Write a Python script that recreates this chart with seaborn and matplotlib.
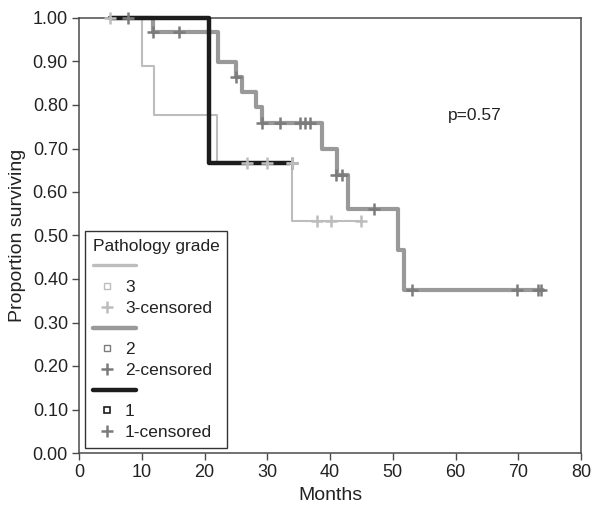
import matplotlib
matplotlib.use("Agg")
import matplotlib.pyplot as plt
import seaborn as sns
import pandas as pd
from matplotlib.lines import Line2D
from matplotlib.legend_handler import HandlerLine2D

# ---------------- data ----------------
grade3_times = [5, 10, 12, 22, 34, 45]
grade3_surv = [1.0, 0.889, 0.778, 0.667, 0.533, 0.533]
grade3_cens_t = [4.9, 26.7, 30.0, 33.9, 37.9, 40.1, 44.9]
grade3_cens_s = [1.0, 0.667, 0.667, 0.667, 0.533, 0.533, 0.533]

grade2_times = [5, 11.8, 22.1, 25.0, 25.9, 28.2, 29.1, 38.8, 41.1, 42.9, 50.9, 51.8, 74.0]
grade2_surv = [1.0, 0.967, 0.898, 0.864, 0.829, 0.795, 0.758, 0.700, 0.639, 0.560, 0.467, 0.375, 0.375]
grade2_cens_t = [7.8, 11.8, 15.9, 25.0, 29.1, 32.0, 35.2, 36.0, 36.8, 41.0, 41.9, 47.0, 53.0, 69.8, 73.1, 73.7]
grade2_cens_s = [1.0, 0.967, 0.967, 0.864, 0.758, 0.758, 0.758, 0.758, 0.758, 0.639, 0.639, 0.560, 0.375, 0.375, 0.375, 0.375]

grade1_times = [5, 20.7, 33.6]
grade1_surv = [1.0, 0.667, 0.667]
grade1_cens_t = [33.9]
grade1_cens_s = [0.667]

x_ticks = [0, 10, 20, 30, 40, 50, 60, 70, 80]
y_ticks = [0.0, 0.1, 0.2, 0.3, 0.4, 0.5, 0.6, 0.7, 0.8, 0.9, 1.0]
p_text = "p=0.57"

# ---------------- style ----------------
sns.set_style("white")
plt.rcParams["font.family"] = ["Liberation Sans", "DejaVu Sans"]

c3 = "#bdbdbd"
c2 = "#999999"
c2_cens = "#7b7b7b"
c1 = "#1c1c1c"
spine_c = "#4a4a4a"

fig = plt.figure(figsize=(5.95, 5.08), dpi=100)
ax = fig.add_axes([79 / 595, 1 - 453 / 508, (581 - 79) / 595, (453 - 18) / 508])

df3 = pd.DataFrame({"t": grade3_times, "s": grade3_surv})
df2 = pd.DataFrame({"t": grade2_times, "s": grade2_surv})
df1 = pd.DataFrame({"t": grade1_times, "s": grade1_surv})

sns.lineplot(data=df3, x="t", y="s", drawstyle="steps-post", estimator=None, sort=False,
             color=c3, linewidth=1.5, ax=ax, zorder=2, clip_on=False, legend=False)
sns.lineplot(data=df2, x="t", y="s", drawstyle="steps-post", estimator=None, sort=False,
             color=c2, linewidth=3.0, ax=ax, zorder=3, clip_on=False, legend=False)
sns.lineplot(data=df1, x="t", y="s", drawstyle="steps-post", estimator=None, sort=False,
             color=c1, linewidth=3.2, ax=ax, zorder=4, clip_on=False, legend=False)

cens_kw = dict(marker="+", s=70, linewidth=1.8, ax=ax, clip_on=False, legend=False)
sns.scatterplot(x=grade1_cens_t, y=grade1_cens_s, color=c2_cens, zorder=5, **cens_kw)
sns.scatterplot(x=grade2_cens_t, y=grade2_cens_s, color=c2_cens, zorder=6, **cens_kw)
sns.scatterplot(x=grade3_cens_t, y=grade3_cens_s, color=c3, zorder=7, **cens_kw)

ax.set_xlim(0, 80)
ax.set_ylim(0, 1.0)
ax.set_xticks(x_ticks)
ax.set_yticks(y_ticks)
ax.set_yticklabels([f"{v:.2f}" for v in y_ticks])
ax.tick_params(axis="both", direction="out", length=5, width=1, color=spine_c,
               labelsize=13, labelcolor="#222222", pad=3, bottom=True, left=True)
for sp in ax.spines.values():
    sp.set_color(spine_c)
    sp.set_linewidth(1.1)
    sp.set_visible(True)

ax.set_xlabel("Months", fontsize=14, color="#222222", labelpad=4)
ax.set_ylabel("Proportion surviving", fontsize=14, color="#222222", labelpad=5)

ax.text(63, 0.777, p_text, ha="center", va="center", fontsize=12.5, color="#222222")


# ---------------- legend ----------------
class LongLine(HandlerLine2D):
    def create_artists(self, legend, orig_handle, xdescent, ydescent, width, height, fontsize, trans):
        return super().create_artists(legend, orig_handle, xdescent, ydescent,
                                      width * 1.55, height, fontsize, trans)


h_l3 = Line2D([], [], color=c3, lw=2.4)
h_s3 = Line2D([], [], ls="none", marker="s", mfc="white", mec=c3, ms=5, mew=1)
h_p3 = Line2D([], [], ls="none", marker="+", color=c3, ms=9, mew=1.8)
h_l2 = Line2D([], [], color=c2, lw=3.2)
h_s2 = Line2D([], [], ls="none", marker="s", mfc="white", mec=c2_cens, ms=5, mew=1)
h_p2 = Line2D([], [], ls="none", marker="+", color=c2_cens, ms=9, mew=1.8)
h_l1 = Line2D([], [], color=c1, lw=3.2)
h_s1 = Line2D([], [], ls="none", marker="s", mfc="white", mec=c1, ms=5, mew=1.2)
h_p1 = Line2D([], [], ls="none", marker="+", color=c2_cens, ms=9, mew=1.8)

handles = [h_l3, h_s3, h_p3, h_l2, h_s2, h_p2, h_l1, h_s1, h_p1]
labels = ["", "3", "3-censored", "", "2", "2-censored", "", "1", "1-censored"]

leg = ax.legend(handles, labels, loc="lower left", bbox_to_anchor=(0.012, 0.0115),
                borderaxespad=0, frameon=True, fancybox=False, framealpha=1,
                edgecolor="#333333", title="Pathology grade", alignment="left",
                handlelength=1.6, handletextpad=0.25, labelspacing=0.32, borderpad=0.45,
                fontsize=12.5, title_fontsize=12.5,
                handler_map={h_l3: LongLine(), h_l2: LongLine(), h_l1: LongLine()})
leg.get_frame().set_linewidth(1.0)
for t in leg.get_texts():
    t.set_color("#222222")
leg.get_title().set_color("#222222")

fig.savefig("out.png", dpi=100)
